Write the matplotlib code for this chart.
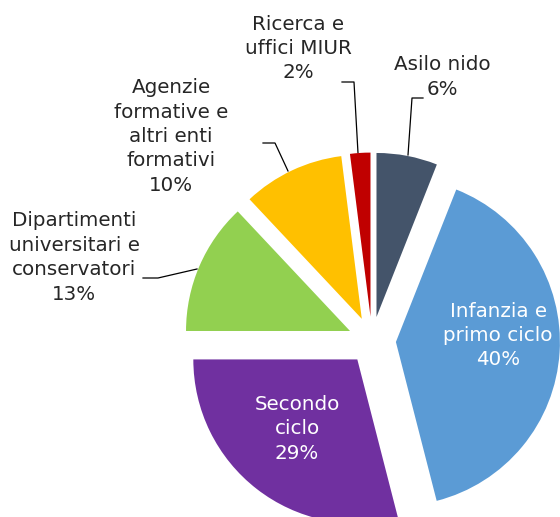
import numpy as np
import matplotlib.pyplot as plt

# shares of the total, clockwise from 12 o'clock
labels = ['Asilo nido', 'Infanzia e\nprimo ciclo', 'Secondo\nciclo',
          'Dipartimenti\nuniversitari e\nconservatori',
          'Agenzie\nformative e\naltri enti\nformativi',
          'Ricerca e\nuffici MIUR']
values = [6, 40, 29, 13, 10, 2]
colors = ['#44546A', '#5B9BD5', '#7030A0', '#92D050', '#FFC000', '#C00000']

W, H = 560, 517
CX, CY, R = 372, 340.5, 164  # pie centre / radius in pixels


def px(x, y):
    return (x - CX) / R, (CY - y) / R


plt.rcParams['font.family'] = 'DejaVu Sans'
fig = plt.figure(figsize=(W / 100, H / 100), dpi=100)
ax = fig.add_axes([0, 0, 1, 1])

wedges, _ = ax.pie(values, colors=colors, startangle=90, counterclock=False,
                   explode=[0.146] * len(values), radius=1.0)
ax.set_aspect('auto')
ax.set_xlim(-CX / R, (W - CX) / R)
ax.set_ylim(-(H - CY) / R, CY / R)
ax.axis('off')

fs = 14.3
ls = 1.36
txt = '#262626'

# inside labels (white)
inside = {1: (498, 335.5), 2: (297, 429)}
for i, (x, y) in inside.items():
    ax.text(*px(x, y), f"{labels[i]}\n{values[i]}%", color='white', fontsize=fs,
            ha='center', va='center', linespacing=ls)

# outside labels with leader lines: text centre, leader path (pixels)
outside = {
    0: ((442, 77), [(423, 98), (412, 98), (408, 155)]),
    5: ((298, 48.5), [(342, 82), (354, 82), (358, 153)]),
    4: ((171, 136.5), [(263, 143), (275, 143), (288, 171)]),
    3: ((74, 257.5), [(143, 278), (158, 278), (197, 269)]),
}
for i, ((x, y), path) in outside.items():
    ax.text(*px(x, y), f"{labels[i]}\n{values[i]}%", color=txt, fontsize=fs,
            ha='center', va='center', linespacing=ls)
    pts = np.array([px(a, b) for a, b in path])
    ax.plot(pts[:, 0], pts[:, 1], color='black', lw=0.9, zorder=0.5)

fig.savefig('out.png', dpi=100)
